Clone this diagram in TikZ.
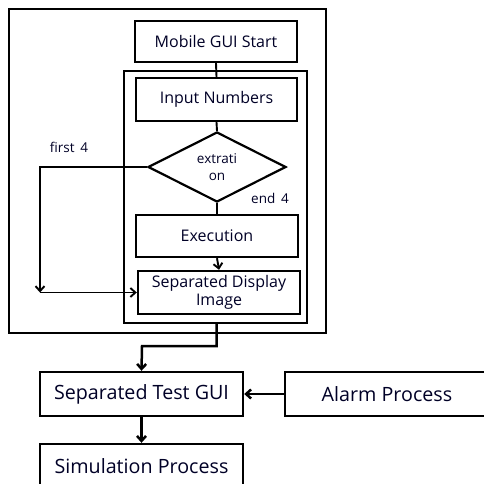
\documentclass[tikz,border=0pt]{standalone}
\usepackage{fontspec}
\setmainfont{Open Sans}
\usetikzlibrary{shapes.geometric,arrows.meta}
\begin{document}
\begin{tikzpicture}[x=1pt,y=-1pt,
  box/.style={draw,line width=2.4pt,rectangle,inner sep=0pt,text=black!85!blue},
  topbox/.style={box,font=\fontsize{16}{18}\selectfont},
  botbox/.style={box,font=\fontsize{19.7}{22}\selectfont},
  conn/.style={line width=1.9pt},
  bconn/.style={line width=2.5pt},
  tip/.style={-{Straight Barb[length=5pt,width=9pt]}},
  lbl/.style={font=\fontsize{13.5}{15}\selectfont,text=black!85!blue,inner sep=0pt}
]
\useasboundingbox (0,0) rectangle (484,484);
\draw[line width=1.5pt] (9,9) rectangle (326,333);
\node[topbox,minimum width=162pt,minimum height=41pt] (start) at (216,41.5) {Mobile GUI Start};
\draw[line width=2.4pt] (124,71) rectangle (307,323);
\coordinate (innerbot) at (216.5,323);
\node[topbox,minimum width=161pt,minimum height=43pt] (input) at (216.5,99.5) {Input Numbers};
\node[draw,diamond,line width=2.2pt,minimum width=138pt,minimum height=70pt,inner sep=0pt,align=center,
  font=\fontsize{13.5}{17}\selectfont,text=black!85!blue] (dia) at (217,167) {extrati\\on};
\node[topbox,minimum width=162pt,minimum height=42pt] (exec) at (217,236) {Execution};
\node[topbox,minimum width=162pt,minimum height=43pt,align=center,font=\fontsize{16}{18.5}\selectfont] (sep) at (219,292.5) {Separated Display\\Image};
\node[lbl] (first) at (69,147) {first\ \,4};
\node[lbl] (end) at (270,198) {end\ \,4};
\node[botbox,minimum width=203pt,minimum height=44pt] (test) at (141.5,394) {Separated Test GUI};
\node[botbox,minimum width=204pt,minimum height=44pt] (alarm) at (387,394) {Alarm Process};
\node[botbox,minimum width=203pt,minimum height=44pt] (sim) at (141.5,466) {Simulation Process};
\coordinate (lc) at (40,167);
\coordinate (ld) at (40,292.5);
\coordinate (b1) at (216.5,346);
\coordinate (b2) at (142,346);
\draw[conn] (start.south) -- (input.north);
\draw[conn] (input.south) -- (dia.north);
\draw[conn] (dia.south) -- (exec.north);
\draw[conn,tip] (exec.south) -- (sep.north);
\draw[conn,tip] (dia.west) -- (lc) -- (ld);
\draw[conn,tip] (ld) -- (sep.west);
\draw[bconn,tip] (innerbot) -- (b1) -- (b2) -- (test.north);
\draw[bconn,tip] (alarm.west) -- (test.east);
\draw[bconn,tip] (test.south) -- (sim.north);
\end{tikzpicture}
\end{document}
